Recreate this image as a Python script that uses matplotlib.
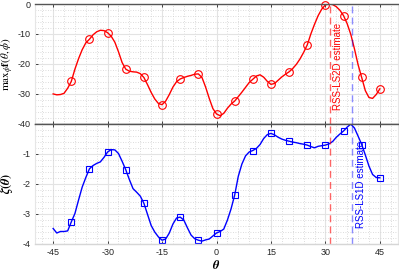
import matplotlib
matplotlib.use("Agg")
import matplotlib.pyplot as plt
from matplotlib.ticker import MultipleLocator

plt.rcParams['font.family'] = ['Liberation Sans', 'DejaVu Sans']
plt.rcParams['mathtext.fontset'] = 'stix'
plt.rcParams['axes.unicode_minus'] = False

# ── data ──────────────────────────────────────────────────────────────────────
theta = [-45, -44, -43, -42, -41, -40, -39, -38, -37, -36, -35, -34, -33, -32, -31,
         -30, -29, -28, -27, -26, -25, -24, -23, -22, -21, -20, -19, -18, -17, -16,
         -15, -14, -13, -12, -11, -10, -9, -8, -7, -6, -5, -4, -3, -2, -1,
         0, 1, 2, 3, 4, 5, 6, 7, 8, 9, 10, 11, 12, 13, 14,
         15, 16, 17, 18, 19, 20, 21, 22, 23, 24, 25, 26, 27, 28, 29,
         30, 31, 32, 33, 34, 35, 36, 37, 38, 39, 40, 41, 42, 43, 44, 45]

f_max = [-30.1, -30.4, -30.3, -29.9, -28.2, -25.9, -21.8, -18.3, -15.3, -13.0,
         -11.8, -10.3, -9.3, -8.8, -8.9, -9.6, -10.8, -12.8, -16.0, -19.6,
         -21.8, -22.5, -22.7, -22.8, -23.3, -24.6, -27.0, -29.6, -31.8, -33.3,
         -33.7, -32.5, -30.3, -27.8, -26.0, -25.1, -24.6, -24.2, -23.9, -23.5,
         -23.4, -24.6, -27.8, -31.6, -35.0, -36.8, -37.4, -36.6, -34.9, -33.5,
         -32.5, -31.0, -29.5, -27.9, -26.3, -25.2, -24.1, -23.7, -24.5, -25.9,
         -26.9, -26.6, -25.5, -24.4, -23.5, -22.7, -21.6, -20.2, -18.4, -16.2,
         -13.7, -10.0, -6.8, -3.9, -1.7, -0.3, 0.0, -0.2, -0.9, -2.1,
         -3.9, -6.6, -10.2, -15.0, -20.3, -24.6, -29.0, -31.3, -31.6, -30.3, -28.4]

zeta = [-3.50, -3.65, -3.60, -3.60, -3.58, -3.28, -3.00, -2.55, -2.12, -1.80,
        -1.51, -1.40, -1.33, -1.28, -1.13, -0.95, -0.87, -0.88, -1.00, -1.26,
        -1.54, -1.87, -2.17, -2.29, -2.42, -2.66, -3.03, -3.40, -3.62, -3.78,
        -3.89, -3.85, -3.65, -3.35, -3.15, -3.12, -3.22, -3.48, -3.72, -3.84,
        -3.89, -3.92, -3.88, -3.85, -3.75, -3.65, -3.60, -3.52, -3.22, -2.85,
        -2.39, -1.76, -1.35, -1.08, -0.95, -0.90, -0.83, -0.70, -0.50, -0.37,
        -0.33, -0.38, -0.46, -0.52, -0.56, -0.59, -0.62, -0.64, -0.67, -0.69,
        -0.72, -0.77, -0.81, -0.76, -0.74, -0.72, -0.68, -0.60, -0.46, -0.35,
        -0.25, -0.12, -0.02, -0.15, -0.42, -0.70, -1.05, -1.42, -1.70, -1.80, -1.81]

mk_theta = [-40, -35, -30, -25, -20, -15, -10, -5, 0, 5, 10, 15, 20, 25, 30, 35, 40, 45]
f_marks  = [-25.9, -11.8, -9.6, -21.8, -24.6, -33.7, -25.2, -23.4, -36.8, -32.5,
            -25.2, -26.9, -22.7, -13.7, -0.3, -3.9, -24.6, -28.4]
z_marks  = [-3.28, -1.51, -0.95, -1.54, -2.66, -3.89, -3.12, -3.89, -3.65, -2.39,
            -0.90, -0.33, -0.59, -0.72, -0.72, -0.25, -0.70, -1.81]

est_2d = 31.2   # RSS-LS2D estimate
est_1d = 37.3   # RSS-LS1D estimate

W, H = 399, 275
fig = plt.figure(figsize=(W / 100, H / 100), dpi=100)
L, R = 35 / W, 398 / W
ax1 = fig.add_axes([L, 1 - 123.5 / H, R - L, 119.5 / H])
ax2 = fig.add_axes([L, 1 - 243.5 / H, R - L, 120 / H])

for ax in (ax1, ax2):
    ax.set_xlim(-50, 50)
    ax.xaxis.set_major_locator(MultipleLocator(15))
    ax.xaxis.set_minor_locator(MultipleLocator(3))
    ax.grid(which='major', color='#e3e3e3', lw=0.8)
    ax.grid(which='minor', color='#d0d0d0', lw=0.6, ls=(0, (1, 2)))
    ax.set_axisbelow(True)
    ax.tick_params(which='both', direction='in', labelsize=6.5, colors='#262626',
                   length=2.5, width=0.6, pad=3)
    ax.tick_params(which='minor', length=0)
    ax.tick_params(axis='x', top=True)
    for s in ('left', 'right'):
        ax.spines[s].set_color('#e6e6e6')
    for s in ('top', 'bottom'):
        ax.spines[s].set_color('#555555')
        ax.spines[s].set_linewidth(1.0)
ax2.spines['bottom'].set_color('#d6d6d6')

# top panel
ax1.plot(theta, f_max, color='#ff0000', lw=1.0)
ax1.plot(mk_theta, f_marks, ls='none', marker='o', ms=5.5, mfc='none',
         mec='#ff0000', mew=0.8, clip_on=False)
ax1.axvline(est_2d, color='#ff0000', alpha=0.6, lw=1.0, dashes=(5, 3))
ax1.axvline(est_1d, color='#0000ff', alpha=0.45, lw=1.0, dashes=(5, 3))
ax1.text(est_2d + 0.8, -35.5, 'RSS-LS2D estimate', rotation=90, color='#ff0000',
         fontsize=7, ha='left', va='bottom')
ax1.set_ylim(-40, 0)
ax1.yaxis.set_major_locator(MultipleLocator(10))
ax1.yaxis.set_minor_locator(MultipleLocator(2))
ax1.set_xticklabels([])
ax1.set_ylabel(r'$\mathrm{max}_{\phi}\mathbf{f}(\theta,\phi)$', fontsize=8, labelpad=1)

# bottom panel
ax2.plot(theta, zeta, color='#0000ff', lw=1.0)
ax2.plot(mk_theta, z_marks, ls='none', marker='s', ms=4, mfc='none',
         mec='#0000ff', mew=0.8, clip_on=False)
ax2.axvline(est_2d, color='#ff0000', alpha=0.6, lw=1.0, dashes=(5, 3))
ax2.axvline(est_1d, color='#0000ff', alpha=0.45, lw=1.0, dashes=(5, 3))
ax2.text(est_1d + 1.0, -3.5, 'RSS-LS1D estimate', rotation=90, color='#0000ff',
         fontsize=7, ha='left', va='bottom')
ax2.set_ylim(-4, 0)
ax2.set_yticks([-4, -3, -2, -1])
ax2.yaxis.set_minor_locator(MultipleLocator(0.2))
ax2.set_xticks([-45, -30, -15, 0, 15, 30, 45])
ax2.set_ylabel(r'$\boldsymbol{\zeta(\theta)}$', fontsize=9, labelpad=6)
ax2.set_xlabel(r'$\boldsymbol{\theta}$', fontsize=9, labelpad=2)

fig.savefig('out.png', dpi=100)
